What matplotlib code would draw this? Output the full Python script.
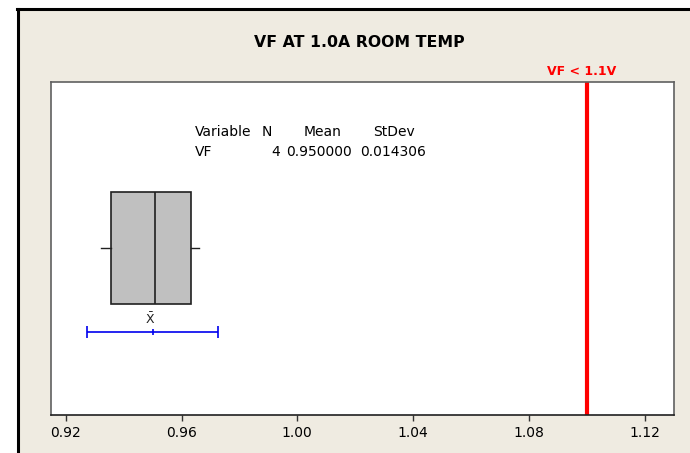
import numpy as np
import matplotlib
matplotlib.use('Agg')
import matplotlib.pyplot as plt
from matplotlib.patches import Rectangle
from matplotlib.lines import Line2D

# ==========================================
# Data
# ==========================================
VARIABLE = "VF"
VF_VALUES = [0.932, 0.947, 0.955, 0.966]
LIMIT = 1.1
LIMIT_LABEL = "VF < 1.1V"
T_975_DF3 = 3.182
X_TICKS = [0.92, 0.96, 1.00, 1.04, 1.08, 1.12]
X_TICK_LABELS = ["0.92", "0.96", "1.00", "1.04", "1.08", "1.12"]
TITLE = "VF AT 1.0A ROOM TEMP"


# Minitab style quartiles: position p*(n+1)
def mtb_quantile(vals, p):
    s = np.sort(np.asarray(vals, dtype=float))
    pos = p * (len(s) + 1) - 1
    lo = int(np.floor(pos))
    frac = pos - lo
    lo = max(0, min(lo, len(s) - 1))
    hi = min(lo + 1, len(s) - 1)
    return s[lo] + frac * (s[hi] - s[lo])


vals = np.array(VF_VALUES)
n = len(vals)
mean = vals.mean()
sd = vals.std(ddof=1)
half_ci = T_975_DF3 * sd / np.sqrt(n)

W, H = 690, 453
fig = plt.figure(figsize=(W / 100, H / 100), dpi=100, facecolor='white')

# beige panel with black border on left and top
fig.patches.append(Rectangle((17 / W, 0), 1, 1 - 8 / H, transform=fig.transFigure,
                             facecolor='#EFEBE1', edgecolor='none', zorder=-5))
fig.lines.append(Line2D([18 / W, 18 / W], [0, 1 - 8.5 / H], transform=fig.transFigure,
                        color='black', lw=2.2, zorder=-4))
fig.lines.append(Line2D([17 / W, 1], [1 - 8.5 / H, 1 - 8.5 / H], transform=fig.transFigure,
                        color='black', lw=2.2, zorder=-4))

# plot area in pixels
AX_L, AX_R, AX_T, AX_B = 51, 673.5, 82, 414.5
ax = fig.add_axes([AX_L / W, (H - AX_B) / H, (AX_R - AX_L) / W, (AX_B - AX_T) / H])
ax.set_facecolor('white')


def px_x(x):
    return (x - AX_L) / (AX_R - AX_L)


def px_y(y):
    return 1 - (y - AX_T) / (AX_B - AX_T)


stats = [{
    'med': mtb_quantile(vals, 0.5),
    'q1': mtb_quantile(vals, 0.25),
    'q3': mtb_quantile(vals, 0.75),
    'whislo': vals.min(),
    'whishi': vals.max(),
    'fliers': [],
}]
ax.bxp(stats, positions=[0.5], widths=0.336, vert=False, patch_artist=True,
       showcaps=False,
       boxprops=dict(facecolor='#C0C0C0', edgecolor='#202020', linewidth=1.2),
       medianprops=dict(color='#202020', linewidth=1.2),
       whiskerprops=dict(color='#202020', linewidth=1.0))

# mean confidence interval
ax.errorbar([mean], [0.249], xerr=[[half_ci], [half_ci]], fmt='none',
            ecolor='#0000EE', elinewidth=1.2, capsize=4, capthick=1.2)
ax.plot([mean], [0.249], marker='|', color='#0000EE', markersize=5, mew=1.2)
ax.text(mean - 0.0007, 0.285, r'$\bar{\mathrm{X}}$', ha='center', va='center',
        fontsize=9, color='#222222')

# spec limit
ax.axvline(LIMIT, color='#FF0000', lw=3.0)
ax.text(1.0983, 1.012, LIMIT_LABEL, transform=ax.get_xaxis_transform(),
        ha='center', va='bottom', color='#FF0000', fontsize=9, fontweight='bold')

# summary table
FS = 10
hdr_y, row_y = px_y(131.7), px_y(151.7)
ax.text(px_x(195), hdr_y, "Variable", transform=ax.transAxes, ha='left', va='center', fontsize=FS)
ax.text(px_x(267), hdr_y, "N", transform=ax.transAxes, ha='center', va='center', fontsize=FS)
ax.text(px_x(323), hdr_y, "Mean", transform=ax.transAxes, ha='center', va='center', fontsize=FS)
ax.text(px_x(394), hdr_y, "StDev", transform=ax.transAxes, ha='center', va='center', fontsize=FS)
ax.text(px_x(195), row_y, VARIABLE, transform=ax.transAxes, ha='left', va='center', fontsize=FS)
ax.text(px_x(280), row_y, str(n), transform=ax.transAxes, ha='right', va='center', fontsize=FS)
ax.text(px_x(352), row_y, f"{mean:.6f}", transform=ax.transAxes, ha='right', va='center', fontsize=FS)
ax.text(px_x(426), row_y, f"{sd:.6f}", transform=ax.transAxes, ha='right', va='center', fontsize=FS)

ax.set_xlim(0.91489, 1.1300)
ax.set_ylim(0, 1)
ax.set_xticks(X_TICKS)
ax.set_xticklabels(X_TICK_LABELS, fontsize=10)
ax.tick_params(axis='x', direction='out', length=4, width=1, color='#333333', pad=4)
ax.set_yticks([])
for side in ['top', 'right', 'left']:
    ax.spines[side].set_color('#606060')
    ax.spines[side].set_linewidth(1.2)
ax.spines['bottom'].set_color('#202020')
ax.spines['bottom'].set_linewidth(1.2)

fig.text(359 / W, 1 - 42.5 / H, TITLE, ha='center', va='center',
         fontsize=11.3, fontweight='bold')

fig.savefig('out.png', dpi=100)
